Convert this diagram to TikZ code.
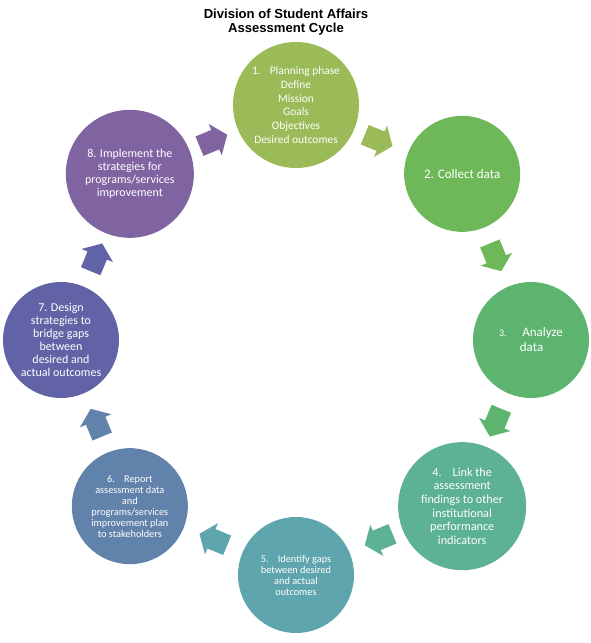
\documentclass[tikz,border=0pt]{standalone}
\usepackage{fontspec}
\setmainfont{Carlito}
\newfontfamily\titlefont{Liberation Sans}
\definecolor{c1}{HTML}{9BBB59}
\definecolor{c2}{HTML}{6FB85A}
\definecolor{c3}{HTML}{5CB46F}
\definecolor{c4}{HTML}{5DB195}
\definecolor{c5}{HTML}{5FA5AD}
\definecolor{c6}{HTML}{6182AA}
\definecolor{c7}{HTML}{6262A6}
\definecolor{c8}{HTML}{8064A2}
\begin{document}
\begin{tikzpicture}[x=1pt,y=1pt,
  stage/.style={circle, inner sep=0pt, text=white, align=center},
  blockarrow/.style={draw=none}]
\useasboundingbox (0,0) rectangle (590,643);
\coordinate (C) at (296,303);
% title
\node[font={\titlefont\bfseries\fontsize{13.1}{14}\selectfont}, align=center] (title) at (286,621)
  {Division of Student Affairs\\Assessment Cycle};
% stages
\node[stage, fill=c1, minimum size=126pt, font=\fontsize{11.4}{13.8}\selectfont] (n1) at ([shift={(90:235)}]C)
  {1.\hspace{0.8em}Planning phase\\Define\\Mission\\Goals\\Objectives\\Desired outcomes};
\node[stage, fill=c2, minimum size=116pt, font=\fontsize{13}{15}\selectfont] (n2) at ([shift={(45:235)}]C)
  {2. Collect data};
\node[stage, fill=c3, minimum size=116pt, font=\fontsize{13}{15}\selectfont, align=left] (n3) at ([shift={(0:235)}]C)
  {{\fontsize{10}{15}\selectfont 3.}\hspace{1.2em}Analyze\\\hspace{1.6em}data};
\node[stage, fill=c4, minimum size=128pt, font=\fontsize{12.2}{13.6}\selectfont] (n4) at ([shift={(-45:235)}]C)
  {4.\hspace{0.9em}Link the\\assessment\\findings to other\\institutional\\performance\\indicators};
\node[stage, fill=c5, minimum size=116pt, font=\fontsize{10.3}{11}\selectfont] (n5) at ([shift={(-90:235)}]C)
  {5.\hspace{0.9em}Identify gaps\\between desired\\and actual\\outcomes};
\node[stage, fill=c6, minimum size=116pt, font=\fontsize{10.3}{11}\selectfont] (n6) at ([shift={(-135:235)}]C)
  {6.\hspace{0.9em}Report\\assessment data\\and\\programs/services\\improvement plan\\to stakeholders};
\node[stage, fill=c7, minimum size=116pt, font=\fontsize{12}{13}\selectfont] (n7) at ([shift={(180:235)}]C)
  {7. Design\\strategies to\\bridge gaps\\between\\desired and\\actual outcomes};
\node[stage, fill=c8, minimum size=128pt, font=\fontsize{12}{13}\selectfont] (n8) at ([shift={(135:235)}]C)
  {8. Implement the\\strategies for\\programs/services\\improvement};
% block arrows between stages
\foreach \i/\col [evaluate=\i as \ang using 112.5-45*\i] in {1/c1,2/c2,3/c3,4/c4,5/c5,6/c6,7/c7,8/c8}{
  \coordinate (a\i) at ([shift={(\ang:216)}]C);
  \fill[\col, shift={(a\i)}, rotate=\ang-90]
    (-15,-10.5) -- (2,-10.5) -- (2,-17) -- (15,0) -- (2,17) -- (2,10.5) -- (-15,10.5) -- cycle;
}
\end{tikzpicture}
\end{document}
